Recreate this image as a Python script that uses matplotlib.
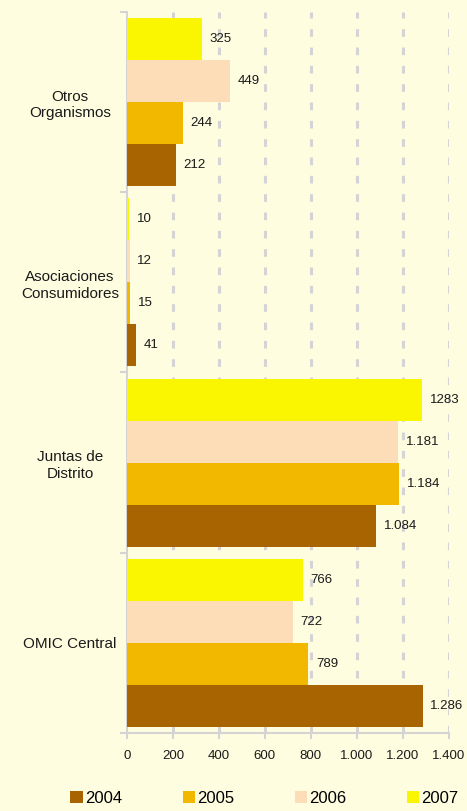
import numpy as np
import matplotlib
matplotlib.use("Agg")
import matplotlib.pyplot as plt
from matplotlib.patches import Patch

plt.rcParams['font.family'] = ['Liberation Sans', 'DejaVu Sans']

# datos
categories = ['OMIC Central', 'Juntas de\nDistrito', 'Asociaciones\nConsumidores', 'Otros\nOrganismos']
years = ['2004', '2005', '2006', '2007']
v2004 = [1286, 1084, 41, 212]
v2005 = [789, 1184, 15, 244]
v2006 = [722, 1181, 12, 449]
v2007 = [766, 1283, 10, 325]
lab2004 = ['1.286', '1.084', '41', '212']
lab2005 = ['789', '1.184', '15', '244']
lab2006 = ['722', '1.181', '12', '449']
lab2007 = ['766', '1283', '10', '325']
xticks = [0, 200, 400, 600, 800, 1000, 1200, 1400]
xticklabels = ['0', '200', '400', '600', '800', '1.000', '1.200', '1.400']

colors = ['#A86400', '#F2B800', '#FCDDB8', '#FAF500']
bg = '#FEFDE0'
grid_c = '#D4D4D4'
txt_c = '#1a1a1a'

fig = plt.figure(figsize=(4.67, 8.11), dpi=100, facecolor=bg)
ax = fig.add_axes([0.272, 0.0962, 0.689, 0.889], facecolor=bg)

h = 0.2333
y = np.arange(len(categories))
series = [v2004, v2005, v2006, v2007]
labels = [lab2004, lab2005, lab2006, lab2007]
for i, (vals, labs) in enumerate(zip(series, labels)):
    pos = y + (i - 1.5) * h
    ax.barh(pos, vals, height=h, color=colors[i], zorder=3)
    for p, v, t in zip(pos, vals, labs):
        ax.text(v + 33, p, t, va='center', ha='left', fontsize=9.5, color=txt_c, zorder=4)

ax.set_xlim(0, 1400)
ax.set_ylim(-0.5, len(categories) - 0.5)

ax.set_xticks(xticks)
ax.set_xticklabels(xticklabels, fontsize=9.5, color=txt_c)
ax.tick_params(axis='x', length=4, color=grid_c, width=1.5, pad=8)

# limites de grupo como ticks mayores, nombres como menores
ax.set_yticks(np.arange(-0.5, len(categories), 1.0))
ax.set_yticklabels([])
ax.tick_params(axis='y', which='major', length=5, color=grid_c, width=1.5)
ax.set_yticks(y, minor=True)
ax.set_yticklabels(categories, minor=True, fontsize=11, color=txt_c, ha='center',
                   multialignment='center', linespacing=1.25)
ax.tick_params(axis='y', which='minor', length=0, pad=41)

for x in xticks[1:]:
    ax.axvline(x, color=grid_c, linestyle=(0, (2.5, 3.5)), linewidth=2.2, zorder=1)

for s in ['top', 'right']:
    ax.spines[s].set_visible(False)
for s in ['left', 'bottom']:
    ax.spines[s].set_color(grid_c)
    ax.spines[s].set_linewidth(1.5)

handles = [Patch(facecolor=c, edgecolor='none') for c in colors]
fig.legend(handles, years, loc='lower center', bbox_to_anchor=(0.566, -0.012), ncol=4,
           frameon=False, fontsize=12, handlelength=0.75, handleheight=0.75,
           handletextpad=0.1, columnspacing=3.65)

fig.savefig('out.png', dpi=100, facecolor=bg)
